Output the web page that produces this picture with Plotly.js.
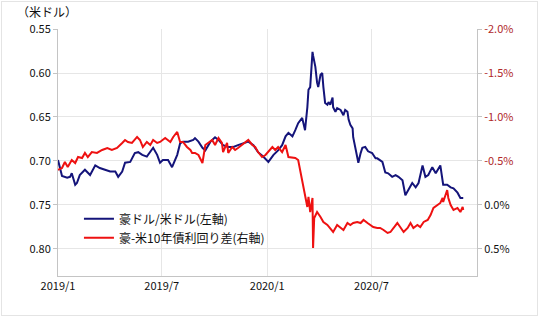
<!DOCTYPE html>
<html>
<head>
<meta charset="utf-8">
<script src="https://cdn.plot.ly/plotly-3.0.1.min.js"></script>
<style>
html,body{margin:0;padding:0;background:#fff;}
#wrap{position:relative;width:540px;height:317px;}
#chart{position:absolute;left:0;top:0;width:540px;height:317px;}
#frame{position:absolute;left:1px;top:1px;width:535px;height:313px;border:1px solid #e4e4e4;pointer-events:none;}
</style>
</head>
<body>
<div id="wrap"><div id="chart"></div><div id="frame"></div></div>
<script>
// 豪ドル/米ドル (left axis, USD)
const audDates = ['2019-01-01','2019-01-08','2019-01-17','2019-01-22','2019-01-25','2019-01-31','2019-02-03','2019-02-08','2019-02-17','2019-02-26','2019-03-07','2019-03-15','2019-03-24','2019-04-02','2019-04-11','2019-04-16','2019-04-23','2019-04-28','2019-05-07','2019-05-15','2019-05-21','2019-05-28','2019-06-05','2019-06-11','2019-06-16','2019-06-23','2019-06-28','2019-07-03','2019-07-12','2019-07-19','2019-07-28','2019-08-02','2019-08-07','2019-08-16','2019-08-25','2019-08-28','2019-09-03','2019-09-10','2019-09-15','2019-09-24','2019-10-02','2019-10-08','2019-10-16','2019-10-25','2019-11-03','2019-11-11','2019-11-20','2019-11-29','2019-12-08','2019-12-16','2019-12-25','2020-01-03','2020-01-12','2020-01-20','2020-01-27','2020-02-02','2020-02-07','2020-02-14','2020-02-19','2020-02-24','2020-03-02','2020-03-07','2020-03-11','2020-03-13','2020-03-16','2020-03-20','2020-03-21','2020-03-25','2020-03-28','2020-03-30','2020-04-03','2020-04-06','2020-04-08','2020-04-11','2020-04-15','2020-04-17','2020-04-20','2020-04-24','2020-04-25','2020-04-29','2020-05-02','2020-05-08','2020-05-13','2020-05-16','2020-05-20','2020-05-22','2020-05-25','2020-05-29','2020-05-30','2020-06-03','2020-06-06','2020-06-08','2020-06-12','2020-06-15','2020-06-20','2020-06-25','2020-07-02','2020-07-08','2020-07-11','2020-07-20','2020-07-25','2020-07-30','2020-08-06','2020-08-12','2020-08-17','2020-08-24','2020-08-29','2020-09-03','2020-09-10','2020-09-16','2020-09-21','2020-09-28','2020-10-03','2020-10-08','2020-10-15','2020-10-21','2020-10-29','2020-11-03','2020-11-10','2020-11-16','2020-11-21','2020-11-28','2020-12-03','2020-12-08'];
const audValues = [0.699,0.717,0.719,0.718,0.714,0.727,0.725,0.716,0.710,0.716,0.705,0.708,0.710,0.712,0.712,0.718,0.712,0.702,0.701,0.691,0.690,0.693,0.695,0.690,0.685,0.693,0.702,0.699,0.699,0.707,0.693,0.680,0.678,0.678,0.676,0.674,0.678,0.685,0.688,0.678,0.673,0.676,0.682,0.684,0.684,0.682,0.680,0.678,0.682,0.690,0.695,0.701,0.693,0.688,0.682,0.672,0.668,0.672,0.665,0.657,0.651,0.665,0.639,0.619,0.616,0.576,0.580,0.593,0.611,0.616,0.602,0.600,0.616,0.634,0.636,0.633,0.636,0.628,0.639,0.644,0.640,0.642,0.648,0.642,0.644,0.653,0.659,0.663,0.673,0.688,0.697,0.702,0.691,0.685,0.684,0.689,0.691,0.697,0.697,0.701,0.713,0.714,0.718,0.716,0.718,0.722,0.739,0.733,0.725,0.730,0.725,0.705,0.718,0.716,0.707,0.714,0.705,0.727,0.727,0.730,0.731,0.736,0.742,0.742];

// 豪-米10年債利回り差 (right axis, %)
const spreadDates = ['2019-01-01','2019-01-08','2019-01-13','2019-01-18','2019-01-25','2019-01-31','2019-02-05','2019-02-12','2019-02-17','2019-02-22','2019-03-01','2019-03-10','2019-03-19','2019-03-28','2019-04-05','2019-04-14','2019-04-23','2019-04-28','2019-05-03','2019-05-10','2019-05-19','2019-05-24','2019-05-29','2019-06-05','2019-06-11','2019-06-16','2019-06-23','2019-06-28','2019-07-07','2019-07-16','2019-07-21','2019-07-28','2019-08-02','2019-08-07','2019-08-14','2019-08-20','2019-08-23','2019-08-28','2019-09-03','2019-09-10','2019-09-15','2019-09-20','2019-09-27','2019-10-02','2019-10-08','2019-10-14','2019-10-16','2019-10-23','2019-10-25','2019-11-01','2019-11-06','2019-11-11','2019-11-18','2019-11-24','2019-11-29','2019-12-06','2019-12-11','2019-12-16','2019-12-23','2019-12-29','2020-01-03','2020-01-10','2020-01-15','2020-01-20','2020-01-27','2020-02-02','2020-02-07','2020-02-14','2020-02-19','2020-02-24','2020-02-28','2020-03-02','2020-03-04','2020-03-07','2020-03-11','2020-03-13','2020-03-16','2020-03-20','2020-03-21','2020-03-23','2020-03-28','2020-04-03','2020-04-08','2020-04-15','2020-04-20','2020-04-25','2020-05-02','2020-05-08','2020-05-13','2020-05-20','2020-05-25','2020-05-30','2020-06-06','2020-06-12','2020-06-17','2020-06-24','2020-06-29','2020-07-04','2020-07-11','2020-07-16','2020-07-22','2020-07-29','2020-08-03','2020-08-08','2020-08-15','2020-08-20','2020-08-26','2020-09-02','2020-09-07','2020-09-12','2020-09-19','2020-09-24','2020-09-30','2020-10-07','2020-10-12','2020-10-17','2020-10-24','2020-10-29','2020-11-02','2020-11-03','2020-11-10','2020-11-12','2020-11-16','2020-11-21','2020-11-28','2020-12-03','2020-12-07','2020-12-08'];
const spreadValues = [-0.398,-0.420,-0.489,-0.432,-0.511,-0.477,-0.545,-0.534,-0.591,-0.545,-0.602,-0.591,-0.625,-0.648,-0.625,-0.648,-0.705,-0.739,-0.716,-0.705,-0.773,-0.739,-0.659,-0.716,-0.682,-0.739,-0.705,-0.716,-0.761,-0.716,-0.773,-0.830,-0.716,-0.716,-0.659,-0.625,-0.591,-0.591,-0.568,-0.477,-0.682,-0.705,-0.739,-0.682,-0.761,-0.705,-0.602,-0.705,-0.591,-0.659,-0.625,-0.648,-0.682,-0.705,-0.739,-0.682,-0.659,-0.602,-0.545,-0.568,-0.602,-0.659,-0.625,-0.659,-0.602,-0.682,-0.545,-0.534,-0.534,-0.511,-0.386,-0.284,-0.227,-0.136,0.023,-0.091,0.080,-0.080,0.489,0.148,0.080,0.136,0.193,0.227,0.261,0.307,0.227,0.261,0.284,0.205,0.227,0.205,0.193,0.205,0.170,0.205,0.227,0.250,0.261,0.261,0.284,0.318,0.307,0.261,0.205,0.250,0.307,0.261,0.205,0.261,0.227,0.250,0.193,0.170,0.114,0.034,0.000,-0.023,-0.080,-0.034,-0.170,-0.080,0.000,0.057,0.034,0.080,0.023,0.057];

const xTickVals = ['2019-01-01','2019-07-01','2020-01-01','2020-07-01'];
const xTickText = ['2019/1','2019/7','2020/1','2020/7'];
const leftTickVals = [0.55,0.60,0.65,0.70,0.75,0.80];
const leftTickText = ['0.55','0.60','0.65','0.70','0.75','0.80'];
const rightTickVals = [-2.0,-1.5,-1.0,-0.5,0.0,0.5];
const rightTickText = ['-2.0%','-1.5%','-1.0%','-0.5%','0.0%','0.5%'];
const seriesNames = ['豪ドル/米ドル(左軸)','豪-米10年債利回り差(右軸)'];

const negColor = '#b0282a';
const rightTickHtml = rightTickText.map((t,i)=> rightTickVals[i] < 0 ? '<span style="color:'+negColor+'">'+t+'</span>' : t);

const font = 'Noto Sans CJK JP, sans-serif';

const traces = [
  {x: audDates, y: audValues, type:'scatter', mode:'lines', name: seriesNames[0],
   line:{color:'#14147a', width:2}, yaxis:'y'},
  {x: spreadDates, y: spreadValues, type:'scatter', mode:'lines', name: seriesNames[1],
   line:{color:'#ee1111', width:2}, yaxis:'y2'}
];

const layout = {
  width:540, height:317,
  margin:{l:58, r:63, t:29, b:41},
  paper_bgcolor:'rgba(0,0,0,0)', plot_bgcolor:'#fff',
  font:{family:font, size:11, color:'#111'},
  showlegend:true,
  legend:{x:0.05, y:0.29, xanchor:'left', yanchor:'top', bgcolor:'rgba(255,255,255,0)',
          font:{family:font, size:12, color:'#111'}, tracegroupgap:0, itemwidth:30},
  xaxis:{type:'date', range:['2019-01-01','2021-01-01'], tickvals:xTickVals, ticktext:xTickText,
         showgrid:true, gridcolor:'#e6e6e6', gridwidth:1, showline:true, linecolor:'#c4c4c4', linewidth:1,
         ticks:'', zeroline:false, tickfont:{family:font, size:11, color:'#111'}, mirror:false},
  yaxis:{range:[0.8307,0.55], tickvals:leftTickVals, ticktext:leftTickText,
         showgrid:true, gridcolor:'#e6e6e6', gridwidth:1, showline:true, linecolor:'#c4c4c4', linewidth:1,
         ticks:'outside', ticklen:4, tickcolor:'#c4c4c4', zeroline:false,
         tickfont:{family:font, size:11, color:'#111'}},
  yaxis2:{overlaying:'y', side:'right', range:[0.807,-2.0], tickvals:rightTickVals, ticktext:rightTickHtml,
          showgrid:false, showline:true, linecolor:'#c4c4c4', linewidth:1,
          ticks:'outside', ticklen:4, tickcolor:'#c4c4c4', zeroline:false,
          tickfont:{family:font, size:11, color:'#111'}},
  annotations:[{xref:'paper', yref:'paper', x:-0.103, y:1.0, yshift:18, xanchor:'left', yanchor:'middle',
                text:'（米ドル）', showarrow:false, font:{family:font, size:12, color:'#111'}}]
};

Plotly.newPlot('chart', traces, layout, {displayModeBar:false, staticPlot:true});
</script>
</body>
</html>
